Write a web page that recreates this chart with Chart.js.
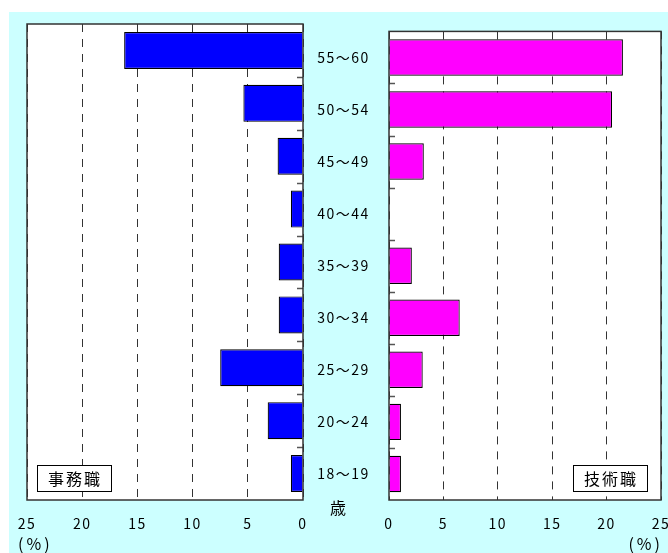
<!DOCTYPE html>
<html lang="ja">
<head>
<meta charset="utf-8">
<title>年齢別構成比</title>
<script src="https://cdn.jsdelivr.net/npm/chart.js@4/dist/chart.umd.min.js"></script>
<style>
  body { margin: 0; background: #fff; }
  #wrap { position: relative; width: 668px; height: 553px; }
  #bg { position: absolute; left: 9px; top: 12px; width: 659px; height: 541px; background: #ccffff; }
  .layer { position: absolute; left: 0; top: 0; width: 668px; height: 553px; }
</style>
</head>
<body>
<div id="wrap">
  <div id="bg"></div>
  <div class="layer"><canvas id="leftChart"></canvas></div>
  <div class="layer"><canvas id="rightChart"></canvas></div>
</div>
<script>
// 年齢区分（上から）
const ageGroups = ["55～60", "50～54", "45～49", "40～44", "35～39", "30～34", "25～29", "20～24", "18～19"];
// 構成比（%）
const officeShare = [16.2, 5.4, 2.3, 1.1, 2.2, 2.2, 7.5, 3.2, 1.1];
const techShare = [21.5, 20.5, 3.2, 0, 2.1, 6.5, 3.1, 1.1, 1.1];
// 横軸目盛
const axisTicks = [0, 5, 10, 15, 20, 25];

const FONT = "'Noto Sans CJK JP', 'Noto Sans', sans-serif";

// 枠・境界目盛・凡例ボックス
const panelPlugin = {
  id: "panel",
  beforeDraw(chart) {
    const { ctx, chartArea: a } = chart;
    ctx.letterSpacing = "1.5px";
    ctx.save();
    ctx.fillStyle = "#fff";
    ctx.fillRect(a.left, a.top, a.right - a.left, a.bottom - a.top);
    ctx.restore();
  },
  afterDraw(chart, args, opts) {
    const { ctx, chartArea: a, scales } = chart;
    const y = scales.y;
    const band = y.getPixelForValue(1) - y.getPixelForValue(0);
    ctx.save();
    // カテゴリ境界の目盛（内側）
    ctx.strokeStyle = "#555";
    ctx.lineWidth = 1.5;
    const edge = opts.side === "left" ? a.right : a.left;
    const dir = opts.side === "left" ? -1 : 1;
    for (let i = 1; i < ageGroups.length; i++) {
      const py = Math.round(y.getPixelForValue(i) - band / 2) + 0.5;
      ctx.beginPath();
      ctx.moveTo(edge, py);
      ctx.lineTo(edge + dir * 6, py);
      ctx.stroke();
    }
    // 枠
    ctx.strokeStyle = "#333";
    ctx.lineWidth = 1.5;
    ctx.strokeRect(a.left, a.top, a.right - a.left, a.bottom - a.top);

    // 凡例ボックス
    const bx = opts.side === "left" ? a.left + 10 : a.right - 88;
    const bw = 74, bh = 26, by = a.bottom - 35;
    ctx.fillStyle = "#fff";
    ctx.fillRect(bx, by, bw, bh);
    ctx.strokeStyle = "#000";
    ctx.lineWidth = 1;
    ctx.strokeRect(bx + 0.5, by + 0.5, bw, bh);
    ctx.fillStyle = "#000";
    ctx.font = "16px " + FONT;
    ctx.textAlign = "center";
    ctx.textBaseline = "middle";
    ctx.letterSpacing = "2px";
    ctx.fillText(opts.label, bx + bw / 2 + 1, by + bh / 2 + 1);

    // 単位
    ctx.letterSpacing = "3px";
    ctx.font = "16px " + FONT;
    ctx.textAlign = opts.side === "left" ? "left" : "right";
    const ux = opts.side === "left" ? 18 : 663;
    ctx.fillText("(%)", ux, 544);
    if (opts.side === "right") {
      ctx.letterSpacing = "0px";
      ctx.textAlign = "center";
      ctx.font = "16px " + FONT;
      ctx.fillText("歳", 338, 508);
    }
    ctx.restore();
  }
};

function xScale(reverse) {
  return {
    type: "linear",
    min: 0,
    max: 25,
    reverse: reverse,
    afterBuildTicks(scale) {
      scale.ticks = axisTicks.map(v => ({ value: v }));
    },
    afterFit(scale) {
      scale.height = 53;
      scale.paddingLeft = 0;
      scale.paddingRight = 0;
    },
    grid: { color: "#333", lineWidth: 1, drawTicks: false },
    border: { display: false, dash: [8, 7] },
    ticks: { color: "#000", padding: 15, font: { family: FONT, size: 14 } }
  };
}

new Chart(document.getElementById("leftChart"), {
  type: "bar",
  data: {
    labels: ageGroups,
    datasets: [{
      label: "事務職",
      data: officeShare,
      backgroundColor: "#0000ff",
      borderColor: "#000",
      borderWidth: 1.2,
      barPercentage: 0.7,
      categoryPercentage: 1
    }]
  },
  options: {
    indexAxis: "y",
    responsive: true,
    maintainAspectRatio: false,
    animation: false,
    layout: { padding: { left: 27, right: 365, top: 24, bottom: 0 } },
    scales: {
      x: xScale(true),
      y: { display: false }
    },
    plugins: {
      legend: { display: false },
      tooltip: { enabled: false },
      panel: { side: "left", label: "事務職" }
    }
  },
  plugins: [panelPlugin]
});

new Chart(document.getElementById("rightChart"), {
  type: "bar",
  data: {
    labels: ageGroups,
    datasets: [{
      label: "技術職",
      data: techShare,
      backgroundColor: "#ff00ff",
      borderColor: "#000",
      borderWidth: 1.2,
      barPercentage: 0.7,
      categoryPercentage: 1
    }]
  },
  options: {
    indexAxis: "y",
    responsive: true,
    maintainAspectRatio: false,
    animation: false,
    layout: { padding: { left: 303, right: 7, top: 24, bottom: 0 } },
    scales: {
      x: xScale(false),
      y: {
        position: "left",
        afterFit(scale) { scale.width = 86; },
        grid: { display: false, drawTicks: false },
        border: { display: false },
        ticks: { color: "#000", crossAlign: "center", padding: 23, font: { family: FONT, size: 14 } }
      }
    },
    plugins: {
      legend: { display: false },
      tooltip: { enabled: false },
      panel: { side: "right", label: "技術職" }
    }
  },
  plugins: [panelPlugin]
});
</script>
</body>
</html>
